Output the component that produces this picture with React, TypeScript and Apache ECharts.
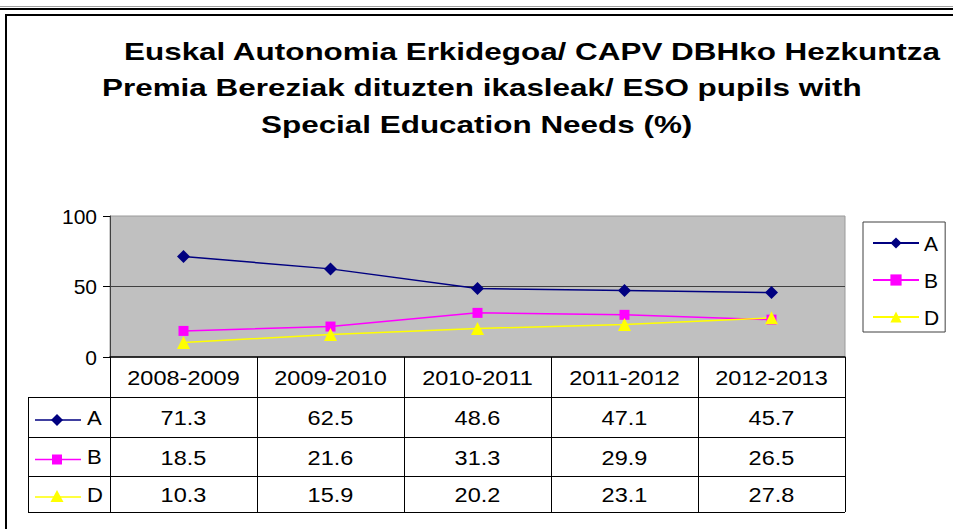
import React, { useEffect, useRef } from 'react';
import * as echarts from 'echarts';

const categories = ['2008-2009', '2009-2010', '2010-2011', '2011-2012', '2012-2013'];
const seriesNames = ['A', 'B', 'D'];
const seriesA = [71.3, 62.5, 48.6, 47.1, 45.7];
const seriesB = [18.5, 21.6, 31.3, 29.9, 26.5];
const seriesD = [10.3, 15.9, 20.2, 23.1, 27.8];
const yTicks = [0, 50, 100];
const titleLines = [
  'Euskal Autonomia Erkidegoa/ CAPV DBHko Hezkuntza',
  'Premia Bereziak dituzten ikasleak/ ESO pupils with',
  'Special Education Needs (%)',
];

const FONT = 'Arial, "Liberation Sans", sans-serif';

export default function App() {
  const ref = useRef<HTMLDivElement>(null);
  useEffect(() => {
    const chart = echarts.init(ref.current!, null, { renderer: 'svg' });
    const seriesData = [seriesA, seriesB, seriesD];
    const colors = ['#000080', '#ff00ff', '#ffff00'];
    const symbols = ['diamond', 'rect', 'triangle'];
    const symbolSizes = [13, 10, 13];
    const titleLefts = [124, 102, 261];
    const titleMids = [52, 88, 125];

    chart.setOption({
      animation: false,
      backgroundColor: '#ffffff',
      legend: {
        data: seriesNames,
        orient: 'vertical',
        left: 863,
        top: 222,
        padding: [10, 6, 4, 9],
        itemGap: 15,
        itemWidth: 46,
        itemHeight: 14,
        borderColor: '#404040',
        borderWidth: 1,
        backgroundColor: '#ffffff',
        textStyle: { fontSize: 21, color: '#000', fontFamily: FONT, lineHeight: 22 },
      },
      grid: {
        left: 110,
        top: 216,
        width: 735,
        height: 141,
        show: true,
        backgroundColor: '#c0c0c0',
        borderColor: '#9a9a9a',
        borderWidth: 1,
      },
      xAxis: {
        type: 'category',
        data: categories,
        boundaryGap: true,
        axisLine: { lineStyle: { color: '#000', width: 1.5 } },
        axisTick: { show: true, interval: 0, length: 155, lineStyle: { color: '#000', width: 1 } },
        axisLabel: { show: false },
        splitLine: { show: false },
      },
      yAxis: {
        type: 'value',
        min: yTicks[0],
        max: yTicks[yTicks.length - 1],
        interval: yTicks[1] - yTicks[0],
        axisLine: { show: true, lineStyle: { color: '#404040', width: 1 } },
        axisTick: { show: true, length: 7, lineStyle: { color: '#000' } },
        axisLabel: { fontSize: 21, color: '#000', fontFamily: FONT, margin: 13 },
        splitLine: { show: true, showMinLine: false, showMaxLine: false, lineStyle: { color: '#404040', width: 1 } },
      },
      series: seriesNames.map((name, i) => ({
        name,
        type: 'line',
        data: seriesData[i],
        symbol: symbols[i],
        symbolSize: symbolSizes[i],
        itemStyle: { color: colors[i] },
        lineStyle: { color: colors[i], width: 1.5 },
      })),
    });

    const centers = categories.map((c) => chart.convertToPixel({ xAxisIndex: 0 }, c) as number);
    const rowEdges = [397, 437, 476, 512];
    const tableLeft = 28;
    const tableRight = 845;
    const elements: any[] = [];
    const txt = (text: string, x: number, y: number, size: number, align: string, sx: number, bold = false) => ({
      type: 'text', x, y, scaleX: sx,
      style: {
        text, fontSize: size, fontFamily: FONT, fontWeight: bold ? 'bold' : 'normal', fill: '#000',
        textAlign: align, textVerticalAlign: 'middle', align, verticalAlign: 'middle',
      },
    });
    // title
    titleLines.forEach((t, i) => elements.push(txt(t, titleLefts[i], titleMids[i], 24, 'left', 1.31, true)));
    // outer frame
    elements.push({ type: 'line', shape: { x1: 0, y1: 6.5, x2: 953, y2: 6.5 }, style: { stroke: '#a0a0a0', lineWidth: 1 } });
    elements.push({ type: 'line', shape: { x1: 0, y1: 9, x2: 953, y2: 9 }, style: { stroke: '#000', lineWidth: 2 } });
    elements.push({ type: 'rect', shape: { x: 6, y: 15, width: 970, height: 540 }, style: { fill: 'none', stroke: '#000', lineWidth: 2 } });
    // table lines
    rowEdges.forEach((y) => {
      elements.push({ type: 'line', shape: { x1: tableLeft, y1: y + 0.5, x2: tableRight, y2: y + 0.5 }, style: { stroke: '#000', lineWidth: 1 } });
    });
    elements.push({ type: 'line', shape: { x1: tableLeft + 0.5, y1: rowEdges[0], x2: tableLeft + 0.5, y2: rowEdges[3] + 1 }, style: { stroke: '#000', lineWidth: 1 } });
    // header labels
    categories.forEach((c, j) => elements.push(txt(c, centers[j], 378, 21, 'center', 1.12)));
    // rows
    seriesNames.forEach((name, i) => {
      const yc = (rowEdges[i] + rowEdges[i + 1]) / 2 + 1;
      const my = yc + 2;
      elements.push({ type: 'line', shape: { x1: 35, y1: my, x2: 81, y2: my }, style: { stroke: colors[i], lineWidth: 1.5 } });
      if (symbols[i] === 'diamond') {
        elements.push({ type: 'polygon', shape: { points: [[57, my - 6], [63, my], [57, my + 6], [51, my]] }, style: { fill: colors[i] } });
      } else if (symbols[i] === 'rect') {
        elements.push({ type: 'rect', shape: { x: 52, y: my - 5, width: 10, height: 10 }, style: { fill: colors[i] } });
      } else {
        elements.push({ type: 'polygon', shape: { points: [[57, my - 7], [63.5, my + 5], [50.5, my + 5]] }, style: { fill: colors[i] } });
      }
      elements.push(txt(name, 87, yc, 21, 'left', 1.05));
      seriesData[i].forEach((v, j) => {
        elements.push(txt(v.toFixed(1), centers[j], yc, 21, 'center', 1.12));
      });
    });
    chart.setOption({ graphic: { elements } });

    return () => chart.dispose();
  }, []);
  return <div ref={ref} style={{ position: 'fixed', left: 0, top: 0, width: 953, height: 529 }} />;
}
